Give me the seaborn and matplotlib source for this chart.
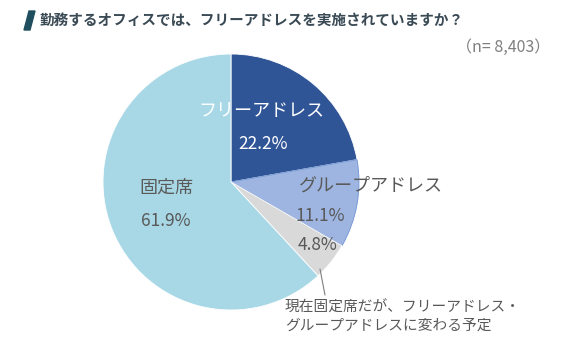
import matplotlib
matplotlib.use("Agg")
import matplotlib.pyplot as plt
import seaborn as sns

categories = ["フリーアドレス", "グループアドレス", "現在固定席だが、フリーアドレス・\nグループアドレスに変わる予定", "固定席"]
values = [22.2, 11.1, 4.8, 61.9]
colors = ["#2F5597", "#9DB5E0", "#D9D9D9", "#A8D8E6"]
title = "勤務するオフィスでは、フリーアドレスを実施されていますか？"
sample_note = "（n= 8,403）"

sns.set_theme(style="white")
plt.rcParams["font.family"] = ["Noto Sans CJK JP", "DejaVu Sans"]

W, H = 561, 337
fig = plt.figure(figsize=(W / 100, H / 100), dpi=100)
fig.patch.set_facecolor("white")

cx, cy, r = 231, 182, 128
ax = fig.add_axes([(cx - r) / W, (H - cy - r) / H, 2 * r / W, 2 * r / H])
wedges, _ = ax.pie(values, colors=colors, startangle=90, counterclock=False,
                   radius=1.0, wedgeprops=dict(linewidth=0.6, edgecolor="#ffffff"))
wedges[1].set_edgecolor("#6F93D3")
ax.set_xlim(-1, 1)
ax.set_ylim(-1, 1)
ax.set_aspect("equal")
ax.axis("off")

def px(x, y):
    return (x - cx) / r, (cy - y) / r

name_kw = dict(ha="center", va="center", fontsize=13)
pct_kw = dict(ha="center", va="center", fontsize=12.5)
ax.text(*px(261, 111), categories[0], color="white", **name_kw)
ax.text(*px(263, 144), f"{values[0]}%", color="white", **pct_kw)
ax.text(*px(371, 186), categories[1], color="#595959", clip_on=False, **name_kw)
ax.text(*px(320, 216), f"{values[1]}%", color="#595959", **pct_kw)
ax.text(*px(317, 245), f"{values[2]}%", color="#595959", **pct_kw)
ax.text(*px(166, 188), categories[3], color="#595959", **name_kw)
ax.text(*px(166, 221), f"{values[3]}%", color="#595959", **pct_kw)

# leader line for the small slice
ax.plot(*zip(px(320, 269), px(325, 295)), color="#7f7f7f", lw=0.8, clip_on=False)
ax.text(*px(285, 301), categories[2], color="#595959", ha="left", va="top",
        fontsize=10.6, linespacing=1.35, clip_on=False)

# title with slanted marker
fig.patches.append(plt.Polygon([[24 / W, 1 - 30 / H], [30 / W, 1 - 30 / H],
                                [35 / W, 1 - 11 / H], [29 / W, 1 - 11 / H]],
                               closed=True, transform=fig.transFigure,
                               color="#1F4E5F"))
fig.text(40 / W, 1 - 20 / H, title, ha="left", va="center", fontsize=10.5,
         fontweight="bold", color="#3A4A55")
fig.text(550 / W, 1 - 47 / H, sample_note, ha="right", va="center",
         fontsize=11.5, color="#7f7f7f")

fig.savefig("out.png", dpi=100, facecolor="white")
